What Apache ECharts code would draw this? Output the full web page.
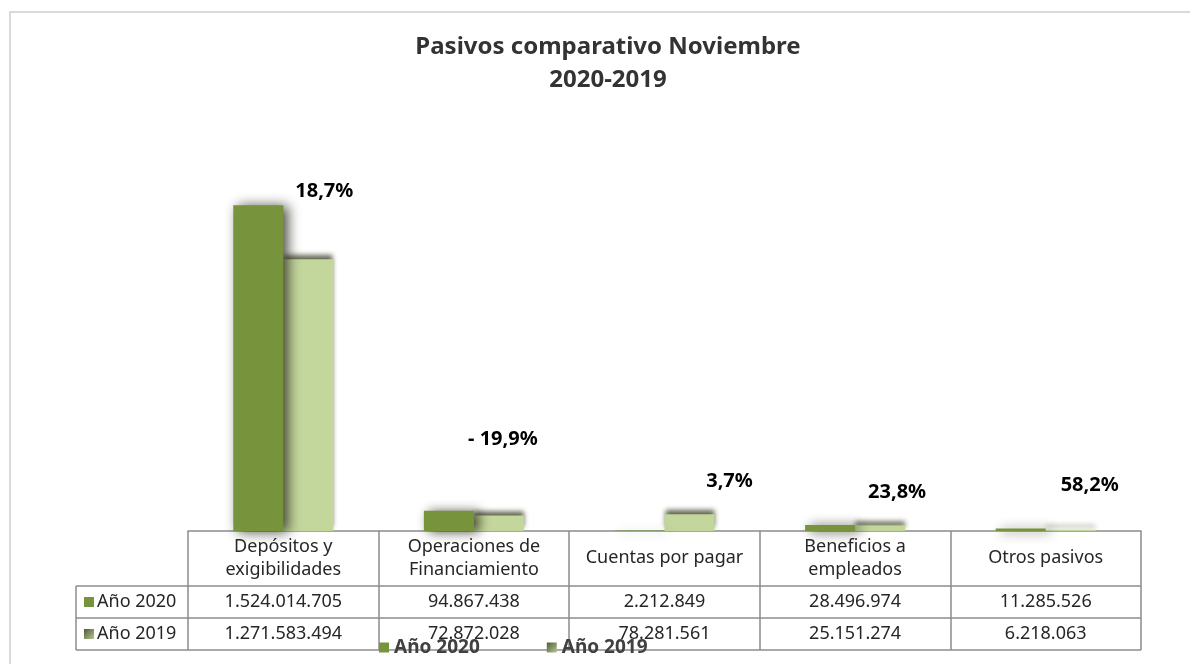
<!DOCTYPE html>
<html>
<head>
<meta charset="utf-8">
<script src="https://cdn.jsdelivr.net/npm/echarts@6/dist/echarts.min.js"></script>
<style>
html, body { margin: 0; padding: 0; background: #fff; }
#chart { width: 1190px; height: 664px; }
</style>
</head>
<body>
<div id="chart"></div>
<script>
const categories = ["Depósitos y\nexigibilidades", "Operaciones de\nFinanciamiento", "Cuentas por pagar", "Beneficios a\nempleados", "Otros pasivos"]
const seriesNames = ["Año 2020", "Año 2019"]
const values2020 = [1524014705, 94867438, 2212849, 28496974, 11285526]
const values2019 = [1271583494, 72872028, 78281561, 25151274, 6218063]
const variation = [18.7, -19.9, 3.7, 23.8, 58.2]
// the % labels were dragged around by hand in the original, nudge them (px)
const labelNudge = [[16, -53], [4, -61], [40, -18], [17, -18], [19, -29]]

const FONT = "Noto Sans"
const GREEN = "#77933C"
const LIGHT = "#C3D69B"
const BORDER = "#8c8c8c"
const grid = { left: 188, right: 49, top: 189, bottom: 133 }
const headerH = 55
const rowH = 32
const cellFont = 18

const darkIcon = new echarts.graphic.LinearGradient(0, 0, 1, 1, [
  { offset: 0, color: "#505a3c" },
  { offset: 1, color: "#b5c78e" },
])

function fmtNum(n) {
  return String(n).replace(/\B(?=(\d{3})+(?!\d))/g, ".")
}
function fmtPct(v) {
  const s = Math.abs(v).toFixed(1).replace(".", ",") + "%"
  return v < 0 ? "- " + s : s
}

const chart = echarts.init(document.getElementById("chart"))

const option = {
  backgroundColor: "#fff",
  animation: false,
  title: {
    text: "Pasivos comparativo Noviembre\n2020-2019",
    left: 603,
    top: 26,
    textAlign: "center",
    textStyle: {
      fontFamily: FONT,
      fontSize: 24,
      fontWeight: "bold",
      color: "#333",
      lineHeight: 33,
    },
  },
  legend: {
    left: 379,
    top: 638,
    padding: 0,
    icon: "rect",
    itemWidth: 10,
    itemHeight: 10,
    itemGap: 67,
    textStyle: { fontFamily: FONT, fontSize: 19, fontWeight: "bold", color: "#404040" },
    data: [
      { name: seriesNames[0] },
      { name: seriesNames[1], itemStyle: { color: darkIcon } },
    ],
  },
  grid: grid,
  xAxis: {
    type: "category",
    data: categories,
    axisLine: { show: true, lineStyle: { color: BORDER, width: 1.5 } },
    axisTick: {
      show: true,
      interval: 0,
      length: headerH + rowH * 2,
      lineStyle: { color: BORDER, width: 1.5 },
    },
    axisLabel: {
      interval: 0,
      margin: 27,
      verticalAlign: "middle",
      fontFamily: FONT,
      fontSize: cellFont,
      lineHeight: 23,
      color: "#262626",
    },
  },
  yAxis: {
    type: "value",
    min: 0,
    max: 1600000000,
    show: false,
    splitLine: { show: false },
  },
  series: [
    {
      name: seriesNames[0],
      type: "bar",
      data: values2020,
      barWidth: 50,
      barGap: "0%",
      z: 3,
      itemStyle: {
        color: GREEN,
        shadowColor: "rgba(30, 30, 20, 0.8)",
        shadowBlur: 12,
        shadowOffsetX: 5,
        shadowOffsetY: 1,
      },
    },
    {
      name: seriesNames[1],
      type: "bar",
      data: values2019.map((v, i) => ({ value: v, label: { offset: labelNudge[i] } })),
      barWidth: 50,
      barGap: "0%",
      itemStyle: {
        color: LIGHT,
        shadowColor: "rgba(80, 85, 60, 0.9)",
        shadowBlur: 5,
        shadowOffsetY: -4,
      },
      label: {
        show: true,
        position: "top",
        formatter: (p) => fmtPct(variation[p.dataIndex]),
        fontFamily: FONT,
        fontSize: 20,
        fontWeight: "bold",
        color: "#000",
      },
    },
  ],
}

chart.setOption(option)

// data table under the axis
function buildTable() {
  const base = 664 - grid.bottom
  const right = 1190 - grid.right
  const tableLeft = 76
  const yRows = [base + headerH, base + headerH + rowH, base + headerH + rowH * 2]
  const els = []
  els.push({
    type: "rect",
    shape: { x: 10, y: 12, width: 1200, height: 700 },
    style: { fill: "none", stroke: "#d9d9d9", lineWidth: 2 },
    silent: true,
  })
  yRows.forEach((y) => {
    els.push({
      type: "line",
      shape: { x1: tableLeft, y1: y, x2: right, y2: y },
      style: { stroke: BORDER, lineWidth: 1.5 },
    })
  })
  els.push({
    type: "line",
    shape: { x1: tableLeft, y1: yRows[0], x2: tableLeft, y2: yRows[2] },
    style: { stroke: BORDER, lineWidth: 1.5 },
  })
  const rows = [values2020, values2019]
  const icons = [GREEN, darkIcon]
  rows.forEach((vals, r) => {
    const cy = yRows[0] + rowH * r + rowH / 2
    els.push({
      type: "rect",
      shape: { x: 84, y: cy - 5, width: 10, height: 10 },
      style: { fill: icons[r] },
    })
    els.push({
      type: "text",
      x: 97,
      y: cy,
      style: {
        text: seriesNames[r],
        fontFamily: FONT,
        fontSize: cellFont,
        fill: "#262626",
        verticalAlign: "middle",
      },
    })
    vals.forEach((v, i) => {
      const cx = chart.convertToPixel({ xAxisIndex: 0 }, i)
      els.push({
        type: "text",
        x: cx,
        y: cy,
        style: {
          text: fmtNum(v),
          fontFamily: FONT,
          fontSize: cellFont,
          fill: "#262626",
          align: "center",
          verticalAlign: "middle",
        },
      })
    })
  })
  chart.setOption({ graphic: { elements: els } })
}
buildTable()
</script>
</body>
</html>
